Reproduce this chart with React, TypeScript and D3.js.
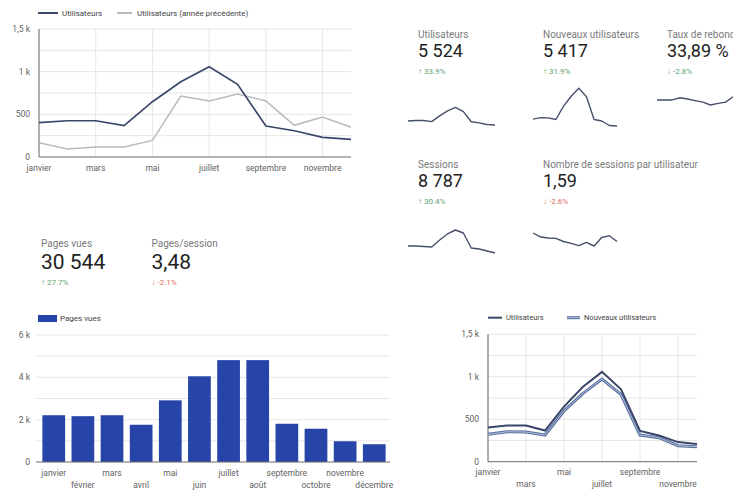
import React from 'react';
import * as d3 from 'd3';

const months = ['janvier', 'février', 'mars', 'avril', 'mai', 'juin', 'juillet', 'août', 'septembre', 'octobre', 'novembre', 'décembre'];
const users = [402, 425, 425, 367, 648, 882, 1058, 852, 363, 308, 231, 207];
const usersPrev = [168, 94, 117, 117, 195, 715, 656, 738, 656, 371, 469, 348];
const newUsers = [322, 353, 349, 314, 597, 805, 973, 793, 314, 283, 188, 177];
const sessions = [620, 620, 600, 578, 872, 1123, 1290, 1164, 537, 495, 411, 327];
const sessionsPerUser = [1.75, 1.66, 1.64, 1.63, 1.56, 1.52, 1.47, 1.54, 1.46, 1.65, 1.69, 1.56];
const bounceRate = [34.0, 34.0, 34.0, 34.7, 34.3, 33.8, 33.3, 32.4, 32.9, 33.3, 35.1, 36.5];
const pageViews = [2210, 2165, 2210, 1760, 2913, 4050, 4813, 4813, 1807, 1573, 980, 840];

const userTicks = [0, 500, 1000, 1500];
const userTickLabels = ['0', '500', '1 k', '1,5 k'];
const pvTicks = [0, 2000, 4000, 6000];
const pvTickLabels = ['0', '2 k', '4 k', '6 k'];

const kpiLabels = ['Utilisateurs', 'Nouveaux utilisateurs', 'Taux de rebond', 'Sessions', 'Nombre de sessions par utilisateur', 'Pages vues', 'Pages/session'];
const kpiValues = ['5 524', '5 417', '33,89 %', '8 787', '1,59', '30 544', '3,48'];
const kpiChanges = [33.9, 31.9, -2.8, 30.4, -2.6, 27.7, -2.1];
const kpiGoodUp = [true, true, false, true, true, true, true];

const FONT = 'Roboto, "Noto Sans", sans-serif';
const GRID = '#e6e6e6';
const AXIS = '#6b6b6b';
const LABEL = '#5f5f5f';
const DARK = '#3a4769';
const PREV = '#b7bac1';
const BAR = '#2745a9';
const SPARK = '#46506a';
const GREEN = '#5ea36f';
const RED = '#df6b5b';

function fmtChange(v: number) {
  return (v >= 0 ? '↑ ' : '↓ ') + v.toFixed(1) + '%';
}

function Kpi({ i, x, y, size }: { i: number; x: number; y: number; size: number }) {
  const up = kpiChanges[i] >= 0;
  const good = kpiGoodUp[i] ? up : !up;
  return (
    <g>
      <text x={x} y={y} fontSize={10} fill="#7a7a7a">{kpiLabels[i]}</text>
      <text x={x} y={y + (size > 19 ? 22 : 18.5)} fontSize={size} fill="#222">{kpiValues[i]}</text>
      <text x={x} y={y + (size > 19 ? 38 : 36)} fontSize={8} fill={good ? GREEN : RED}>{fmtChange(kpiChanges[i])}</text>
    </g>
  );
}

function Spark({ data, x0, x1, yTop, yBot }: { data: number[]; x0: number; x1: number; yTop: number; yBot: number }) {
  const x = d3.scaleLinear([0, data.length - 1], [x0, x1]);
  const ext = d3.extent(data) as [number, number];
  const y = d3.scaleLinear(ext, [yBot, yTop]);
  const line = d3.line<number>().x((_, i) => x(i)).y((d) => y(d));
  return <path d={line(data) || ''} fill="none" stroke={SPARK} strokeWidth={1.4} strokeLinejoin="round" />;
}

function TopLineChart() {
  const x = d3.scalePoint(months, [39, 351]);
  const y = d3.scaleLinear([0, 1500], [157, 29]);
  const line = d3.line<number>().x((_, i) => x(months[i])!).y((d) => y(d));
  const grid = d3.range(250, 1501, 250);
  return (
    <g>
      {grid.map((g) => (
        <line key={g} x1={39} x2={351} y1={y(g)} y2={y(g)} stroke={GRID} />
      ))}
      {months.map((m, i) => i % 2 === 0 && (
        <line key={m} x1={x(m)} x2={x(m)} y1={29} y2={157} stroke={GRID} />
      ))}
      <line x1={39} x2={39} y1={29} y2={157} stroke={AXIS} />
      <line x1={39} x2={351} y1={157} y2={157} stroke={AXIS} />
      {userTicks.map((t, i) => (
        <text key={t} x={30} y={y(t)} dy="0.35em" textAnchor="end" fontSize={8.5} fill={LABEL}>{userTickLabels[i]}</text>
      ))}
      {months.map((m, i) => i % 2 === 0 && (
        <text key={m} x={x(m)} y={168} dy="0.35em" textAnchor="middle" fontSize={8.5} fill={LABEL}>{m}</text>
      ))}
      <path d={line(usersPrev) || ''} fill="none" stroke={PREV} strokeWidth={1.5} />
      <path d={line(users) || ''} fill="none" stroke={DARK} strokeWidth={1.7} />
      <line x1={38} x2={58} y1={13} y2={13} stroke={DARK} strokeWidth={2} />
      <text x={62} y={13} dy="0.35em" fontSize={8} fill="#444">Utilisateurs</text>
      <line x1={117} x2={132} y1={13} y2={13} stroke={PREV} strokeWidth={2} />
      <text x={137} y={13} dy="0.35em" fontSize={8} fill="#444">Utilisateurs (année précédente)</text>
    </g>
  );
}

function BarChart() {
  const x = d3.scaleBand(months, [38, 390]).paddingInner(0.22).paddingOuter(0.15);
  const y = d3.scaleLinear([0, 6000], [462, 335]);
  const grid = d3.range(1000, 6001, 1000);
  return (
    <g>
      {grid.map((g) => (
        <line key={g} x1={36} x2={390} y1={y(g)} y2={y(g)} stroke={GRID} />
      ))}
      {pageViews.map((v, i) => (
        <rect key={i} x={x(months[i])} y={y(v)} width={x.bandwidth()} height={y(0) - y(v)} fill={BAR} />
      ))}
      <line x1={36} x2={390} y1={462} y2={462} stroke={AXIS} />
      {pvTicks.map((t, i) => (
        <text key={t} x={30} y={y(t)} dy="0.35em" textAnchor="end" fontSize={8.5} fill={LABEL}>{pvTickLabels[i]}</text>
      ))}
      {months.map((m, i) => (
        <text key={m} x={x(m)! + x.bandwidth() / 2} y={i % 2 === 0 ? 473 : 485} dy="0.35em" textAnchor="middle" fontSize={8.5} fill={LABEL}>{m}</text>
      ))}
      <rect x={38} y={315} width={19} height={7} fill={BAR} />
      <text x={60} y={318.5} dy="0.35em" fontSize={8} fill="#444">Pages vues</text>
    </g>
  );
}

function BottomLineChart() {
  const x = d3.scalePoint(months, [488, 697]);
  const y = d3.scaleLinear([0, 1500], [461.7, 334.3]);
  const line = d3.line<number>().x((_, i) => x(months[i])!).y((d) => y(d));
  const grid = d3.range(250, 1501, 250);
  return (
    <g>
      {grid.map((g) => (
        <line key={g} x1={488} x2={697} y1={y(g)} y2={y(g)} stroke={GRID} />
      ))}
      {months.map((m, i) => i % 2 === 0 && (
        <line key={m} x1={x(m)} x2={x(m)} y1={334.3} y2={461.7} stroke={GRID} />
      ))}
      <line x1={488} x2={488} y1={334.3} y2={461.7} stroke={AXIS} />
      <line x1={488} x2={697} y1={461.7} y2={461.7} stroke={AXIS} />
      {userTicks.map((t, i) => (
        <text key={t} x={479} y={y(t)} dy="0.35em" textAnchor="end" fontSize={8.5} fill={LABEL}>{userTickLabels[i]}</text>
      ))}
      {months.map((m, i) => i % 2 === 0 && (
        <text key={m} x={x(m)} y={i % 4 === 0 ? 472 : 484} dy="0.35em" textAnchor="middle" fontSize={8.5} fill={LABEL}>{m}</text>
      ))}
      <path d={line(newUsers) || ''} fill="none" stroke="#5a6f9c" strokeWidth={3} />
      <path d={line(newUsers) || ''} fill="none" stroke="#aebfdf" strokeWidth={1} />
      <path d={line(users) || ''} fill="none" stroke={DARK} strokeWidth={2} />
      <line x1={488} x2={502} y1={317.7} y2={317.7} stroke={DARK} strokeWidth={2} />
      <text x={506} y={317.7} dy="0.35em" fontSize={7.5} fill="#444">Utilisateurs</text>
      <line x1={567} x2={580} y1={317.7} y2={317.7} stroke="#5a6f9c" strokeWidth={3} />
      <line x1={567} x2={580} y1={317.7} y2={317.7} stroke="#aebfdf" strokeWidth={1} />
      <text x={584} y={317.7} dy="0.35em" fontSize={7.5} fill="#444">Nouveaux utilisateurs</text>
    </g>
  );
}

export default function App() {
  return (
    <svg width={733} height={493} style={{ position: 'absolute', left: 0, top: 0, background: '#fff' }} fontFamily={FONT}>
      <rect width={733} height={493} fill="#fff" />
      <TopLineChart />
      <Kpi i={0} x={418} y={38} size={18} />
      <Kpi i={1} x={543} y={38} size={18} />
      <Kpi i={2} x={667} y={38} size={18} />
      <Kpi i={3} x={418} y={168} size={18} />
      <Kpi i={4} x={543} y={168} size={18} />
      <Kpi i={5} x={41} y={247} size={21} />
      <Kpi i={6} x={151.5} y={247} size={21} />
      <Spark data={users} x0={408} x1={495} yTop={107.3} yBot={125} />
      <Spark data={newUsers} x0={533} x1={617} yTop={88.3} yBot={126} />
      <Spark data={bounceRate} x0={657} x1={741} yTop={92} yBot={105} />
      <Spark data={sessions} x0={408} x1={495} yTop={230} yBot={253} />
      <Spark data={sessionsPerUser} x0={533} x1={617} yTop={233} yBot={246} />
      <BarChart />
      <BottomLineChart />
    </svg>
  );
}
